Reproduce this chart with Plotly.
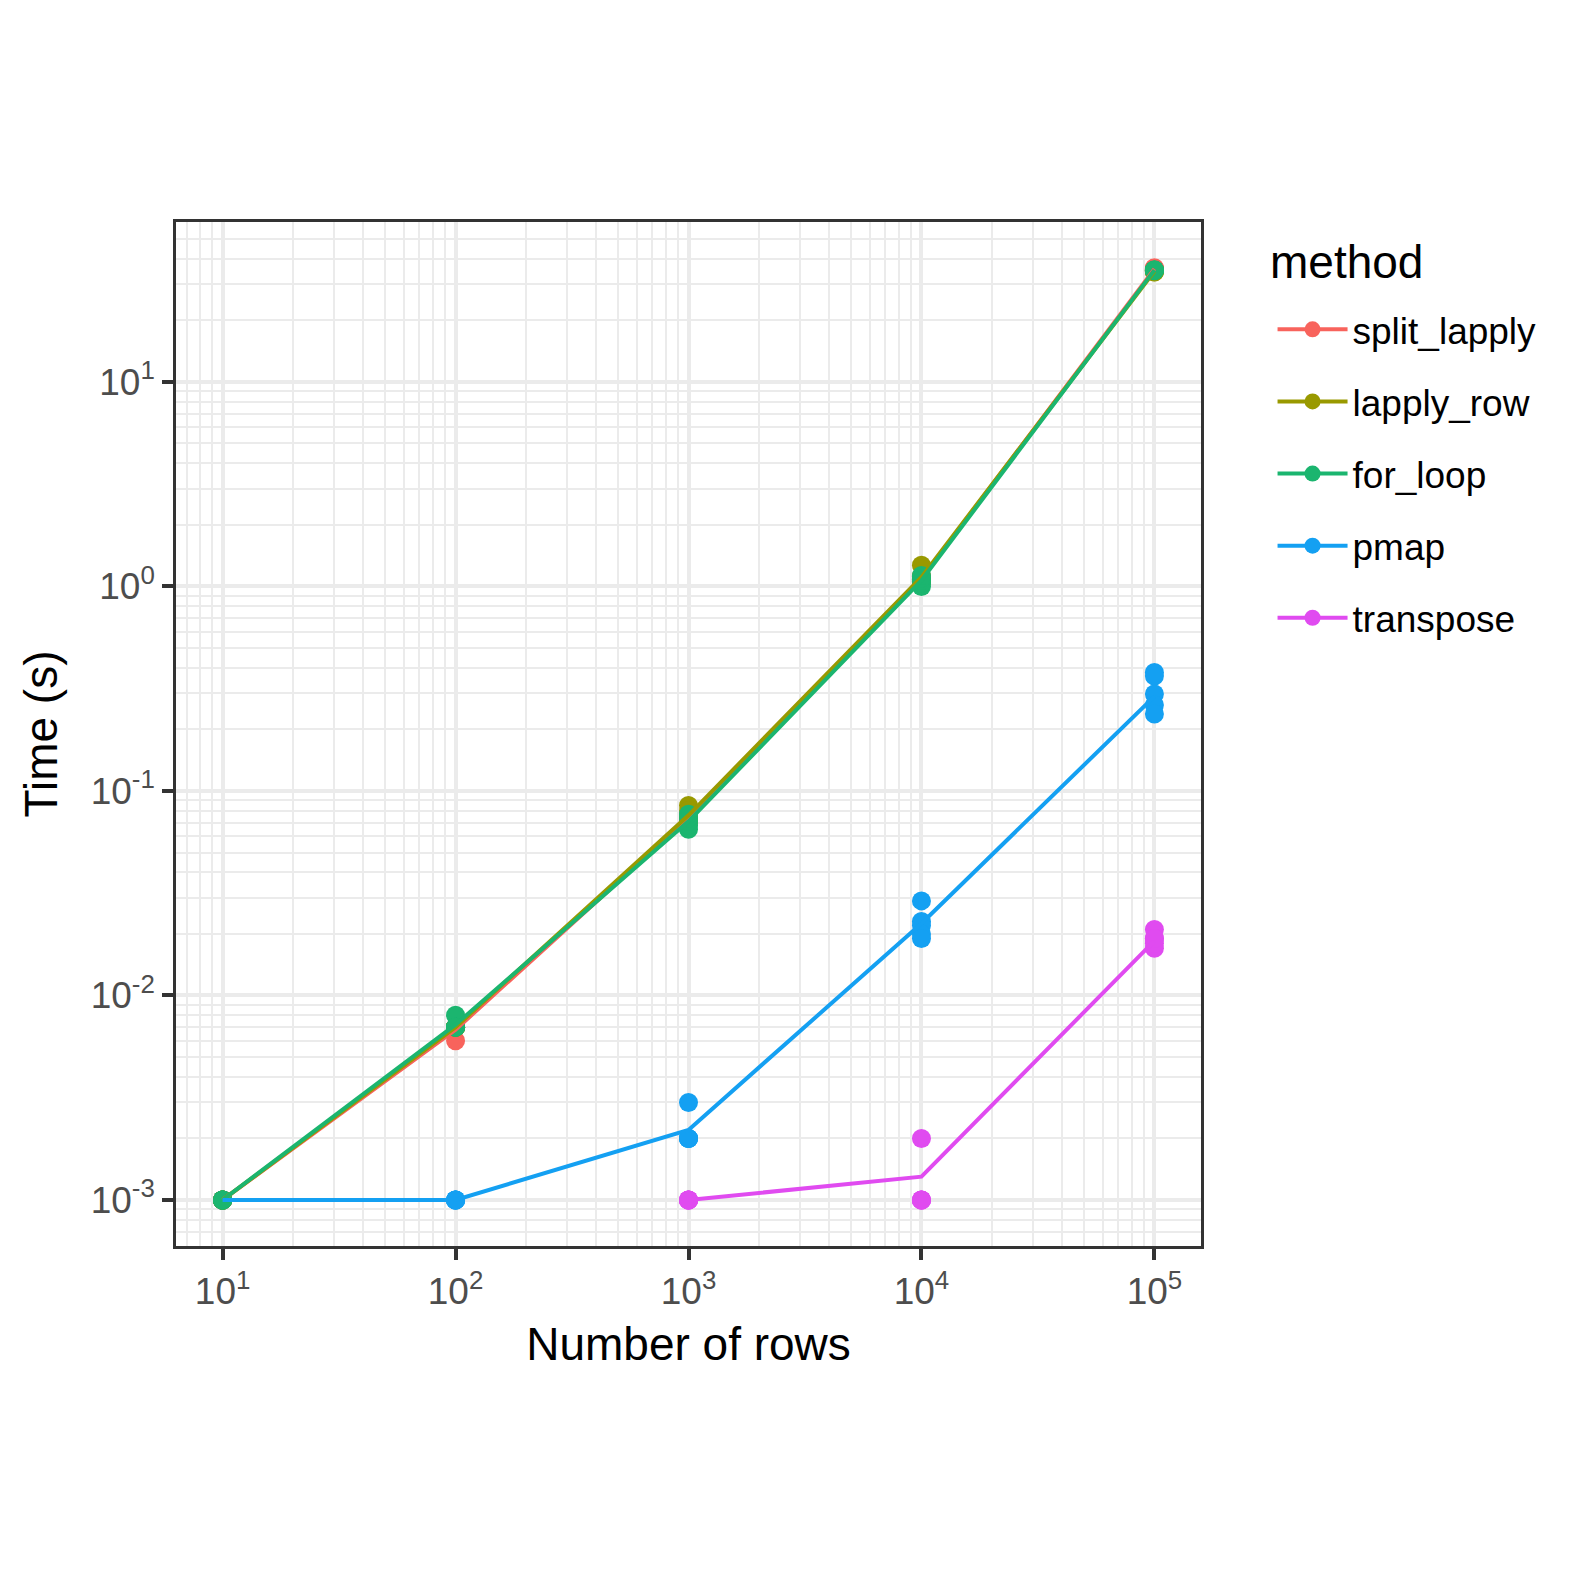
import plotly.graph_objects as go

# ---------------- data ----------------
rows = [10, 100, 1000, 10000, 100000]
rows_transpose = [1000, 10000, 100000]

methods = ["split_lapply", "lapply_row", "for_loop", "pmap", "transpose"]
colors = ["#F8635C", "#999900", "#1BB56F", "#14A0F2", "#E04BF0"]

# individual timings (s), 5 repetitions per size
split_lapply_pts = [
    [0.001, 0.001, 0.001, 0.001, 0.001],
    [0.006, 0.007, 0.007, 0.007, 0.007],
    [0.071, 0.073, 0.074, 0.075, 0.076],
    [1.06, 1.08, 1.09, 1.10, 1.12],
    [35.6, 35.9, 36.2, 35.4, 35.8],
]
lapply_row_pts = [
    [0.001, 0.001, 0.001, 0.001, 0.001],
    [0.007, 0.007, 0.007, 0.007, 0.007],
    [0.085, 0.080, 0.075, 0.072, 0.070],
    [1.27, 1.12, 1.08, 1.06, 1.05],
    [34.5, 34.8, 35.0, 35.2, 34.6],
]
for_loop_pts = [
    [0.001, 0.001, 0.001, 0.001, 0.001],
    [0.008, 0.007, 0.007, 0.007, 0.007],
    [0.065, 0.068, 0.071, 0.074, 0.077],
    [1.00, 1.04, 1.07, 1.10, 1.13],
    [35.2, 35.0, 35.4, 35.1, 35.3],
]
pmap_pts = [
    [0.001, 0.001, 0.001, 0.001, 0.001],
    [0.001, 0.001, 0.001, 0.001, 0.001],
    [0.003, 0.002, 0.002, 0.002, 0.002],
    [0.029, 0.023, 0.022, 0.020, 0.019],
    [0.380, 0.365, 0.298, 0.263, 0.238],
]
transpose_pts = [
    [0.001, 0.001, 0.001, 0.001, 0.001],
    [0.002, 0.001, 0.001, 0.001, 0.001],
    [0.021, 0.019, 0.017, 0.018, 0.019],
]

# mean lines (s)
split_lapply_mean = [0.001, 0.0068, 0.074, 1.09, 35.7]
lapply_row_mean = [0.001, 0.0070, 0.076, 1.11, 34.8]
for_loop_mean = [0.001, 0.0072, 0.071, 1.07, 35.2]
pmap_mean = [0.001, 0.001, 0.0022, 0.0225, 0.29]
transpose_mean = [0.001, 0.0013, 0.0185]

x_tickvals = [10, 100, 1000, 10000, 100000]
x_ticktext = ["10<sup>1</sup>", "10<sup>2</sup>", "10<sup>3</sup>", "10<sup>4</sup>", "10<sup>5</sup>"]
y_tickvals = [0.001, 0.01, 0.1, 1, 10]
y_ticktext = ["10<sup>-3</sup>", "10<sup>-2</sup>", "10<sup>-1</sup>", "10<sup>0</sup>", "10<sup>1</sup>"]

legend_title = "method"
x_title = "Number of rows"
y_title = "Time (s)"

# ---------------- figure ----------------
FONT = "Liberation Sans, Arial, Helvetica, sans-serif"
pts = {
    "split_lapply": (rows, split_lapply_pts, split_lapply_mean),
    "lapply_row": (rows, lapply_row_pts, lapply_row_mean),
    "for_loop": (rows, for_loop_pts, for_loop_mean),
    "pmap": (rows, pmap_pts, pmap_mean),
    "transpose": (rows_transpose, transpose_pts, transpose_mean),
}
col = dict(zip(methods, colors))

fig = go.Figure()

# points (drawn first, for_loop on top of the others)
for m in ["transpose", "pmap", "split_lapply", "lapply_row", "for_loop"]:
    xs, ys, _ = pts[m]
    px = [x for x, reps in zip(xs, ys) for _ in reps]
    py = [v for reps in ys for v in reps]
    fig.add_trace(go.Scatter(x=px, y=py, mode="markers", showlegend=False,
                             legendgroup=m,
                             marker=dict(size=19, color=col[m], line=dict(width=0)),
                             hoverinfo="skip"))

# mean lines
for m in methods:
    xs, _, mean = pts[m]
    fig.add_trace(go.Scatter(x=xs, y=mean, mode="lines", showlegend=False,
                             legendgroup=m,
                             line=dict(color=col[m], width=4)))

# legend entries
for i, m in enumerate(methods):
    fig.add_trace(go.Scatter(x=[None], y=[None], mode="lines+markers", name=m,
                             legendgroup=m, legendrank=i + 1,
                             line=dict(color=col[m], width=4),
                             marker=dict(size=19, color=col[m])))

axis_common = dict(
    type="log",
    showline=True, linecolor="#333333", linewidth=2.5, mirror=True,
    ticks="outside", ticklen=11, tickwidth=4, tickcolor="#333333",
    showgrid=True, gridcolor="#EBEBEB", gridwidth=4,
    zeroline=False,
    tickfont=dict(size=37, color="#4D4D4D", family=FONT),
    automargin=False,
)

minor_x = [m * 10 ** e for e in range(0, 6) for m in range(2, 10)]
minor_y = [m * 10.0 ** e for e in range(-4, 2) for m in range(2, 10)]

fig.update_xaxes(**axis_common, range=[0.8, 5.2],
                 tickvals=x_tickvals, ticktext=x_ticktext,
                 minor=dict(tickvals=minor_x, showgrid=True, gridcolor="#EBEBEB", gridwidth=2, ticks=""),
                 title=dict(text=x_title, font=dict(size=46, color="black", family=FONT), standoff=17))
fig.update_yaxes(**axis_common, range=[-3.225, 1.782],
                 tickvals=y_tickvals, ticktext=y_ticktext,
                 minor=dict(tickvals=minor_y, showgrid=True, gridcolor="#EBEBEB", gridwidth=2, ticks=""),
                 title=dict(text=y_title, font=dict(size=46, color="black", family=FONT), standoff=19))

fig.add_annotation(text=legend_title, xref="paper", yref="paper",
                   x=1.0658, y=0.961, xanchor="left", yanchor="middle",
                   showarrow=False, font=dict(size=46, color="black", family=FONT))

fig.update_layout(
    width=1579, height=1579,
    margin=dict(l=168, r=386, t=214, b=341, pad=0),
    paper_bgcolor="white", plot_bgcolor="white",
    font=dict(family=FONT, color="black"),
    legend=dict(
        font=dict(size=37, color="black", family=FONT),
        x=1.0698, xanchor="left", y=0.925, yanchor="top",
        tracegroupgap=21, itemsizing="trace", itemwidth=70,
        bgcolor="rgba(0,0,0,0)",
    ),
)

fig.write_html("out.html")
